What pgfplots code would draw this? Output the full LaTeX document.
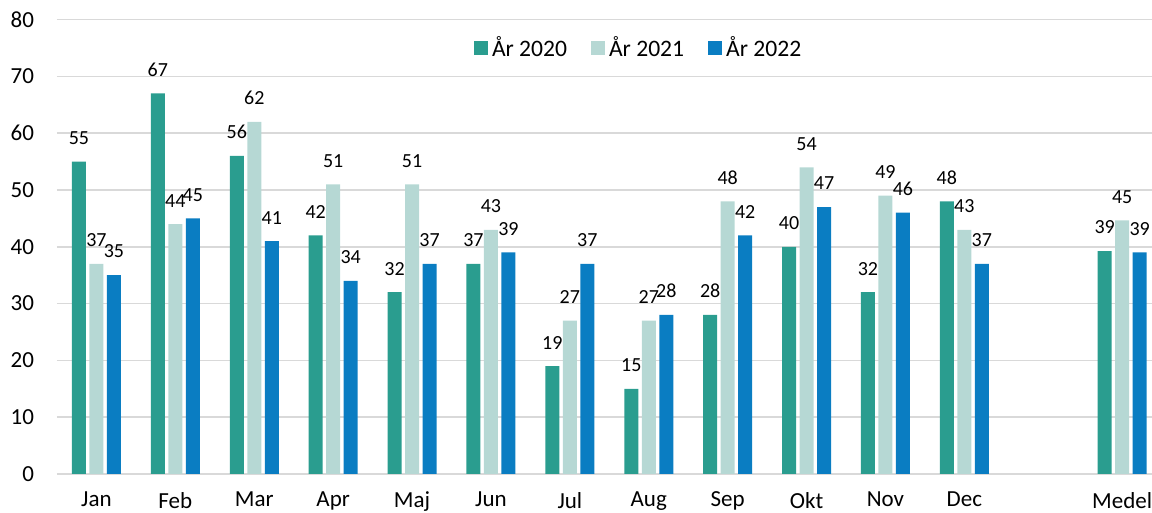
\documentclass[border=0pt]{standalone}
\usepackage{pgfplots}
\pgfplotsset{compat=1.18}
\usepackage{fontspec}
\setmainfont{Carlito}
\definecolor{c20}{HTML}{2A9D8F}
\definecolor{c21}{HTML}{B6D8D4}
\definecolor{c22}{HTML}{0A7DC2}
\definecolor{gridc}{HTML}{D9D9D9}
\pgfplotsset{sqleg/.style={legend image code/.code={\fill[##1] (0pt,-3.4pt) rectangle (7pt,3.4pt);}}}
\begin{document}
\begin{tikzpicture}
\begin{axis}[
  at={(28.5pt,19.5pt)}, anchor=south west,
  x=39.45pt, y=2.84pt,
  xmin=-0.5, xmax=13.38, ymin=0, ymax=80,
  axis line style={draw=none},
  ybar=1.75pt, bar width=7pt,
  ytick={0,10,...,80},
  ymajorgrids, grid style={gridc, line width=0.8pt},
  major tick length=0pt,
  xtick={0,1,2,3,4,5,6,7,8,9,10,11,13},
  xticklabels={Jan,Feb,Mar,Apr,Maj,Jun,Jul,Aug,Sep,Okt,Nov,Dec,Medel},
  tick label style={font=\fontsize{11.5}{13}\selectfont},
  /pgf/number format/assume math mode=true,
  yticklabel style={xshift=-8pt},
  xticklabel style={yshift=-5.5pt},
  nodes near coords={\pgfmathprintnumber[fixed,precision=0,assume math mode=true]{\pgfplotspointmeta}},
  every node near coord/.append style={font=\fontsize{10}{12}\selectfont, black, yshift=5pt},
  legend style={draw=none, at={(0.532,0.938)}, anchor=center, legend columns=3,
    font=\fontsize{11.8}{14}\selectfont,
    /tikz/every even column/.style={column sep=10pt}},
]
\addplot[fill=c20, draw=none, sqleg] coordinates {(0,55) (1,67) (2,56) (3,42) (4,32) (5,37) (6,19) (7,15) (8,28) (9,40) (10,32) (11,48) (13,39.25)};
\addplot[fill=c21, draw=none, sqleg] coordinates {(0,37) (1,44) (2,62) (3,51) (4,51) (5,43) (6,27) (7,27) (8,48) (9,54) (10,49) (11,43) (13,44.67)};
\addplot[fill=c22, draw=none, sqleg] coordinates {(0,35) (1,45) (2,41) (3,34) (4,37) (5,39) (6,37) (7,28) (8,42) (9,47) (10,46) (11,37) (13,39)};
\legend{År 2020,År 2021,År 2022}
\end{axis}
\pgfresetboundingbox
\useasboundingbox (0,0) rectangle (576pt,256.5pt);
\end{tikzpicture}
\end{document}
